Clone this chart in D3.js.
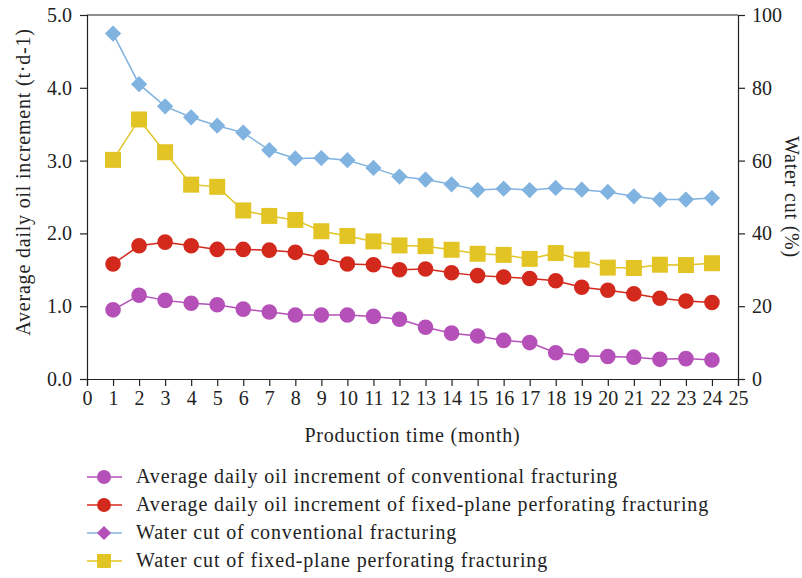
<!DOCTYPE html>
<html>
<head>
<meta charset="utf-8">
<script src="https://cdn.jsdelivr.net/npm/d3@7"></script>
<style>
  html, body { margin: 0; padding: 0; background: #fff; }
  svg text { font-family: "Liberation Serif", "DejaVu Serif", serif; fill: #222; }
</style>
</head>
<body>
<svg id="chart" width="802" height="578"></svg>
<script>
// Production month index
const months = d3.range(1, 25);

// Average daily oil increment (t·d-1)
const oilConventional = [0.95, 1.15, 1.08, 1.04, 1.02, 0.96, 0.92, 0.88, 0.88, 0.88, 0.86, 0.82,
                         0.71, 0.63, 0.59, 0.53, 0.50, 0.36, 0.32, 0.31, 0.30, 0.27, 0.28, 0.26];
const oilFixedPlane   = [1.58, 1.83, 1.88, 1.83, 1.78, 1.78, 1.77, 1.74, 1.67, 1.58, 1.57, 1.50,
                         1.51, 1.46, 1.42, 1.40, 1.38, 1.35, 1.26, 1.22, 1.17, 1.11, 1.07, 1.05];

// Water cut (%)
const waterConventional = [94.9, 81.0, 74.9, 71.9, 69.6, 67.7, 62.9, 60.6, 60.7, 60.1, 58.0, 55.6,
                           54.8, 53.5, 51.9, 52.3, 51.9, 52.5, 52.0, 51.4, 50.2, 49.3, 49.3, 49.7];
const waterFixedPlane   = [60.2, 71.3, 62.3, 53.4, 52.8, 46.3, 44.8, 43.7, 40.6, 39.3, 37.8, 36.7,
                           36.5, 35.5, 34.4, 34.1, 33.0, 34.6, 32.8, 30.6, 30.5, 31.4, 31.3, 31.8];

// Axis ticks
const xTicks = d3.range(0, 26);
const leftTicks = [0, 1, 2, 3, 4, 5];
const rightTicks = [0, 20, 40, 60, 80, 100];

const legendLabels = [
  "Average daily oil increment of conventional fracturing",
  "Average daily oil increment of fixed-plane perforating fracturing",
  "Water cut of conventional fracturing",
  "Water cut of fixed-plane perforating fracturing"
];

const colors = {
  purple: "#b450b8",
  red: "#d3291d",
  blue: "#80b3e0",
  yellow: "#e2c424"
};

const svg = d3.select("#chart");
const margin = { left: 87, right: 64, top: 15, bottom: 199 };
const W = 802, H = 578;
const x0 = margin.left, x1 = W - margin.right;
const y0 = H - margin.bottom, y1 = margin.top;

const x = d3.scaleLinear().domain([0, 25]).range([x0, x1]);
const yL = d3.scaleLinear().domain([0, 5]).range([y0, y1]);
const yR = d3.scaleLinear().domain([0, 100]).range([y0, y1]);

const fontSize = 20;
const spacing = "0.8px";
const axisColor = "#222";

// Frame top line
svg.append("line").attr("x1", x0).attr("x2", x1).attr("y1", y1).attr("y2", y1)
  .attr("stroke", axisColor).attr("stroke-width", 1.2);

// Bottom axis
const gx = svg.append("g").attr("transform", `translate(0,${y0})`)
  .call(d3.axisBottom(x).tickValues(xTicks).tickFormat(d3.format("d")).tickSizeOuter(0).tickSize(7).tickPadding(5));
// Left axis
const gl = svg.append("g").attr("transform", `translate(${x0},0)`)
  .call(d3.axisLeft(yL).tickValues(leftTicks).tickFormat(d3.format(".1f")).tickSizeOuter(0).tickSize(7).tickPadding(8));
// Right axis
const gr = svg.append("g").attr("transform", `translate(${x1},0)`)
  .call(d3.axisRight(yR).tickValues(rightTicks).tickFormat(d3.format("d")).tickSizeOuter(0).tickSize(7).tickPadding(7));

[gx, gl, gr].forEach(g => {
  g.select(".domain").attr("stroke", axisColor).attr("stroke-width", 1.2);
  g.selectAll(".tick line").attr("stroke", axisColor).attr("stroke-width", 1.2);
  g.selectAll(".tick text").attr("font-size", fontSize).attr("fill", "#222")
    .style("font-family", '"Liberation Serif", serif');
});

// Axis titles
svg.append("text").attr("x", (x0 + x1) / 2).attr("y", 442)
  .attr("text-anchor", "middle").attr("font-size", fontSize).attr("letter-spacing", spacing)
  .text("Production time (month)");
svg.append("text").attr("transform", `translate(30,${(y0 + y1) / 2 - 15}) rotate(-90)`)
  .attr("text-anchor", "middle").attr("font-size", fontSize).attr("letter-spacing", spacing)
  .text("Average daily oil increment (t·d-1)");
svg.append("text").attr("transform", `translate(785,${(y0 + y1) / 2}) rotate(90)`)
  .attr("text-anchor", "middle").attr("font-size", fontSize).attr("letter-spacing", spacing)
  .text("Water cut (%)");

// Marker symbols
const circleSym = d3.symbol().type(d3.symbolCircle).size(Math.PI * 7.8 * 7.8);
const squareSym = d3.symbol().type(d3.symbolSquare).size(16 * 16);
const diamondSym = d3.symbol().type(d3.symbolSquare).size(11.5 * 11.5);

const series = [
  { values: waterConventional, y: yR, color: colors.blue, marker: "diamond" },
  { values: waterFixedPlane, y: yR, color: colors.yellow, marker: "square" },
  { values: oilFixedPlane, y: yL, color: colors.red, marker: "circle" },
  { values: oilConventional, y: yL, color: colors.purple, marker: "circle" }
];

function drawMarker(sel, type, color) {
  if (type === "circle") sel.attr("d", circleSym).attr("fill", color);
  else if (type === "square") sel.attr("d", squareSym).attr("fill", color);
  else sel.attr("d", diamondSym).attr("fill", color);
}

series.forEach(s => {
  const line = d3.line().x((d, i) => x(months[i])).y(d => s.y(d));
  svg.append("path").datum(s.values).attr("d", line)
    .attr("fill", "none").attr("stroke", s.color).attr("stroke-width", 1.5);
  svg.append("g").selectAll("path").data(s.values).join("path")
    .attr("transform", (d, i) => `translate(${x(months[i])},${s.y(d)})` + (s.marker === "diamond" ? " rotate(45)" : ""))
    .call(sel => drawMarker(sel, s.marker, s.color));
});

// Legend
const legendItems = [
  { label: legendLabels[0], line: colors.purple, fill: colors.purple, marker: "circle" },
  { label: legendLabels[1], line: colors.red, fill: colors.red, marker: "circle" },
  { label: legendLabels[2], line: colors.blue, fill: colors.purple, marker: "diamond" },
  { label: legendLabels[3], line: colors.yellow, fill: colors.yellow, marker: "square" }
];
const legendY = [477, 505, 533, 561];
const lg = svg.append("g");
legendItems.forEach((it, i) => {
  const g = lg.append("g").attr("transform", `translate(0,${legendY[i]})`);
  g.append("line").attr("x1", 87).attr("x2", 122).attr("y1", 0).attr("y2", 0)
    .attr("stroke", it.line).attr("stroke-width", 1.5);
  const m = g.append("path").attr("transform", `translate(104,0)` + (it.marker === "diamond" ? " rotate(45)" : ""));
  if (it.marker === "circle") m.attr("d", d3.symbol().type(d3.symbolCircle).size(Math.PI * 7 * 7)).attr("fill", it.fill);
  else if (it.marker === "square") m.attr("d", d3.symbol().type(d3.symbolSquare).size(14 * 14)).attr("fill", it.fill);
  else m.attr("d", d3.symbol().type(d3.symbolSquare).size(10 * 10)).attr("fill", it.fill);
  g.append("text").attr("x", 136).attr("y", 0).attr("dy", "0.3em")
    .attr("font-size", fontSize).attr("letter-spacing", "0.85px").text(it.label);
});
</script>
</body>
</html>
